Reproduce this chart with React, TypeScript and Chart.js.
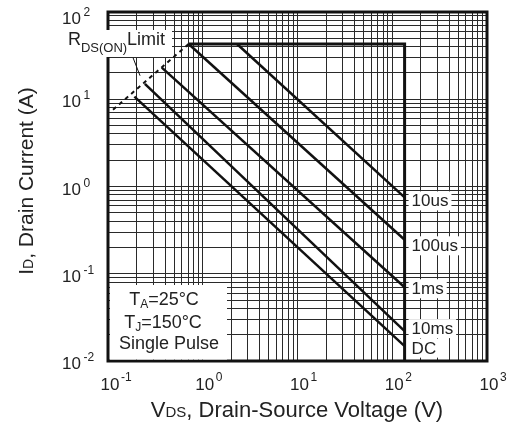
import React, { useEffect, useRef } from "react";
import { Chart, registerables } from "chart.js";

Chart.register(...registerables);

// ---- Axes ----
const X_MIN = 0.1;
const X_MAX = 1000;
const Y_MIN = 0.01;
const Y_MAX = 100;
const xDecades = [-1, 0, 1, 2, 3];
const yDecades = [-2, -1, 0, 1, 2];
const gridMultipliers = [1, 2, 3, 4, 5, 6, 7, 8, 9];

// ---- Series (V in volts, I in amperes) ----
const boundaryV = [0.71, 135, 135];
const boundaryI = [43, 43, 0.01];
const rdsLimitV = [0.113, 0.71];
const rdsLimitI = [7.6, 43];
const us10V = [2.3, 135];
const us10I = [43, 0.75];
const us100V = [0.71, 135];
const us100I = [43, 0.245];
const ms1V = [0.37, 135];
const ms1I = [23, 0.07];
const ms10V = [0.245, 135];
const ms10I = [15, 0.022];
const dcV = [0.19, 135];
const dcI = [10.7, 0.0148];
const leaderV = [0.184, 0.218];
const leaderI = [29.8, 18.6];

const curveLabels = ["10us", "100us", "1ms", "10ms", "DC"];
const curveEndV = [us10V[1], us100V[1], ms1V[1], ms10V[1], dcV[1]];
const curveEndI = [us10I[1], us100I[1], ms1I[1], ms10I[1], dcI[1]];
const labelDy = [3, 5.5, 1, -3, 1.5];

const FONT = '"Liberation Sans", Arial, Helvetica, sans-serif';
const INK = "#222";

type Run = { text: string; size: number; dy?: number };

function pts(vs: number[], is: number[]) {
  return vs.map((v, k) => ({ x: v, y: is[k] }));
}

function gridValues(decades: number[]) {
  const out: { value: number }[] = [];
  for (let k = 0; k < decades.length - 1; k++) {
    for (const m of gridMultipliers) out.push({ value: m * Math.pow(10, decades[k]) });
  }
  out.push({ value: Math.pow(10, decades[decades.length - 1]) });
  return out;
}

function runsWidth(ctx: CanvasRenderingContext2D, runs: Run[]) {
  let w = 0;
  for (const r of runs) {
    ctx.font = `${r.size}px ${FONT}`;
    w += ctx.measureText(r.text).width;
  }
  return w;
}

function drawRuns(ctx: CanvasRenderingContext2D, runs: Run[], x: number, y: number) {
  let cx = x;
  for (const r of runs) {
    ctx.font = `${r.size}px ${FONT}`;
    ctx.fillText(r.text, cx, y + (r.dy || 0));
    cx += ctx.measureText(r.text).width;
  }
  return cx;
}

function drawRunsCentered(ctx: CanvasRenderingContext2D, runs: Run[], cx: number, y: number) {
  const w = runsWidth(ctx, runs);
  drawRuns(ctx, runs, cx - w / 2, y);
}

const overlayPlugin = {
  id: "overlay",
  afterDraw(chart: any) {
    const ctx: CanvasRenderingContext2D = chart.ctx;
    const xs = chart.scales.x;
    const ys = chart.scales.y;
    const { left, right, top, bottom } = chart.chartArea;
    ctx.save();
    ctx.textAlign = "left";
    ctx.textBaseline = "alphabetic";

    // frame
    ctx.strokeStyle = "#111";
    ctx.lineWidth = 3;
    ctx.strokeRect(left, top, right - left, bottom - top);

    ctx.fillStyle = INK;
    // x tick labels
    for (const e of xDecades) {
      const px = xs.getPixelForValue(Math.pow(10, e));
      ctx.font = `17px ${FONT}`;
      const w10 = ctx.measureText("10").width;
      const sx = px + 2 - w10 / 2;
      ctx.fillText("10", sx, 390);
      ctx.font = `12px ${FONT}`;
      ctx.fillText(e < 0 ? "-" + Math.abs(e) : String(e), sx + w10 + 1.5, 381);
    }
    // y tick labels
    for (const e of yDecades) {
      const py = ys.getPixelForValue(Math.pow(10, e));
      const c = Math.max(py + 2, 18);
      ctx.font = `17px ${FONT}`;
      const w10 = ctx.measureText("10").width;
      ctx.fillText("10", 62, c + 6);
      ctx.font = `12px ${FONT}`;
      ctx.fillText(e < 0 ? "-" + Math.abs(e) : String(e), 62 + w10 + 2.5, c - 2);
    }

    // axis titles
    drawRunsCentered(
      ctx,
      [
        { text: "V", size: 22 },
        { text: "DS", size: 15 },
        { text: ", Drain-Source Voltage (V)", size: 22 },
      ],
      297,
      417
    );
    ctx.save();
    ctx.translate(33, 181);
    ctx.rotate(-Math.PI / 2);
    drawRunsCentered(
      ctx,
      [
        { text: "I", size: 21 },
        { text: "D", size: 14 },
        { text: ", Drain Current (A)", size: 21 },
      ],
      0,
      0
    );
    ctx.restore();

    // RDS(ON) Limit label
    ctx.fillStyle = "#fff";
    ctx.fillRect(60, 30, 112, 27);
    ctx.fillStyle = INK;
    drawRunsCentered(
      ctx,
      [
        { text: "R", size: 18 },
        { text: "DS(ON)", size: 13, dy: 7 },
        { text: "Limit", size: 18 },
      ],
      116.5,
      45
    );

    // conditions box
    ctx.fillStyle = "#fff";
    ctx.fillRect(110, 285, 117, 74.5);
    ctx.fillStyle = INK;
    drawRunsCentered(
      ctx,
      [
        { text: "T", size: 18 },
        { text: "A", size: 12, dy: 3 },
        { text: "=25°C", size: 18 },
      ],
      164,
      305
    );
    drawRunsCentered(
      ctx,
      [
        { text: "T", size: 18 },
        { text: "J", size: 12, dy: 3 },
        { text: "=150°C", size: 18 },
      ],
      163,
      328
    );
    drawRunsCentered(ctx, [{ text: "Single Pulse", size: 18 }], 169, 349);

    // curve labels
    curveLabels.forEach((t, k) => {
      const lx = xs.getPixelForValue(curveEndV[k]) + 7;
      const ly = ys.getPixelForValue(curveEndI[k]) + labelDy[k];
      ctx.font = `17px ${FONT}`;
      const w = ctx.measureText(t).width;
      ctx.fillStyle = "#fff";
      ctx.fillRect(lx - 3, ly - 9, w + 6, 19);
      ctx.fillStyle = INK;
      ctx.fillText(t, lx, ly + 6);
    });

    ctx.restore();
  },
};

export default function App() {
  const ref = useRef<HTMLCanvasElement | null>(null);

  useEffect(() => {
    if (!ref.current) return;
    const line = (data: any[], width: number, dash: number[] = []) => ({
      data,
      showLine: true,
      borderColor: "#111",
      borderWidth: width,
      borderDash: dash,
      pointRadius: 0,
      tension: 0,
      fill: false,
    });
    const chart = new Chart(ref.current, {
      type: "scatter",
      data: {
        datasets: [
          line(pts(boundaryV, boundaryI), 3),
          line(pts(us10V, us10I), 2.5),
          line(pts(us100V, us100I), 2.5),
          line(pts(ms1V, ms1I), 2.5),
          line(pts(ms10V, ms10I), 2.5),
          line(pts(dcV, dcI), 2.5),
          line(pts(rdsLimitV, rdsLimitI), 2, [4, 4]),
          line(pts(leaderV, leaderI), 1),
        ] as any,
      },
      options: {
        animation: false,
        responsive: false,
        devicePixelRatio: 1,
        layout: { padding: { left: 108, right: 23, top: 12, bottom: 77 } },
        plugins: { legend: { display: false }, tooltip: { enabled: false } },
        scales: {
          x: {
            type: "logarithmic",
            min: X_MIN,
            max: X_MAX,
            afterBuildTicks: (axis: any) => {
              axis.ticks = gridValues(xDecades);
            },
            ticks: { display: false },
            grid: { color: "#2a2a2a", lineWidth: 1, drawTicks: false },
            border: { display: false },
          },
          y: {
            type: "logarithmic",
            min: Y_MIN,
            max: Y_MAX,
            afterBuildTicks: (axis: any) => {
              axis.ticks = gridValues(yDecades);
            },
            ticks: { display: false },
            grid: { color: "#2a2a2a", lineWidth: 1, drawTicks: false },
            border: { display: false },
          },
        },
      } as any,
      plugins: [overlayPlugin],
    });
    return () => chart.destroy();
  }, []);

  return (
    <div style={{ position: "fixed", left: 0, top: 0, width: 510, height: 438, background: "#fff" }}>
      <canvas ref={ref} width={510} height={438} style={{ display: "block" }} />
    </div>
  );
}
